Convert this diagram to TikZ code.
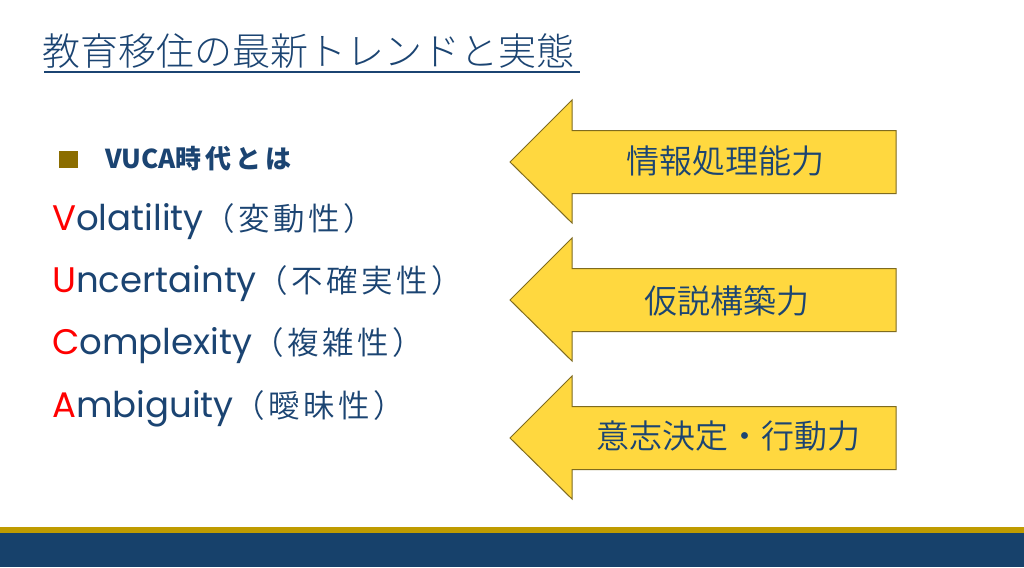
\documentclass[tikz,border=0pt]{standalone}
\usepackage{fontspec}
\setmainfont{Noto Sans CJK JP}
\newfontfamily\pop{Poppins}
\newfontfamily\cjklight{Noto Sans CJK JP Light}
\newfontfamily\cjkdemi{Noto Sans CJK JP DemiLight}
\usetikzlibrary{calc}
\definecolor{navy}{HTML}{1B4472}
\definecolor{band}{HTML}{17416B}
\definecolor{gold}{HTML}{BF9B00}
\definecolor{arrowfill}{HTML}{FFD83F}
\definecolor{arrowline}{HTML}{7F6B1F}
\definecolor{bulletc}{HTML}{8B6D00}
\definecolor{vred}{HTML}{FF0000}
\tikzset{
  bigarrow/.style={fill=arrowfill, draw=arrowline, line width=1pt, line join=miter},
  arrowtext/.style={text=navy, font=\cjkdemi\fontsize{33}{38}\selectfont, inner sep=0pt},
  vucaline/.style={text=navy, anchor=base west, inner sep=0pt},
}
\newcommand{\leftarrowshape}[1]{%
  \draw[bigarrow] (510,#1) -- (572,#1-62) -- (572,#1-31.5) -- (896,#1-31.5)
    -- (896,#1+31.5) -- (572,#1+31.5) -- (572,#1+61) -- cycle;}
\newcommand{\vucaword}[3]{{\fontsize{35.5}{40}\selectfont\pop\textcolor{vred}{#1}#2}{\cjkdemi\fontsize{31.5}{36}\selectfont\addfontfeature{LetterSpace=11}#3}}
\begin{document}
\begin{tikzpicture}[x=1pt,y=-1pt]
\useasboundingbox (0,0) rectangle (1024,567);
\fill[white] (0,0) rectangle (1024,567);
% title
\node[anchor=base west, inner sep=0pt, text=navy, font=\cjklight\fontsize{38}{44}\selectfont] (title) at (42,66) {教育移住の最新トレンドと実態};
\draw[navy, line width=1.5pt] (44,72) -- (580,72);
% bullet header
\fill[bulletc] (59,151) rectangle (78,168);
\node[vucaline, font=\bfseries\fontsize{26}{30}\selectfont] (head) at (105,168) {VUCA{\addfontfeature{LetterSpace=15}時代とは}};
% VUCA lines
\node[vucaline] (vol) at (52,230) {\vucaword{V}{olatility}{（変動性）}};
\node[vucaline] (unc) at (52,292) {\vucaword{U}{ncertainty}{（不確実性）}};
\node[vucaline] (com) at (52,354) {\vucaword{C}{omplexity}{（複雑性）}};
\node[vucaline] (amb) at (52,417) {\vucaword{A}{mbiguity}{（曖昧性）}};
% arrows
\leftarrowshape{162}
\leftarrowshape{300}
\leftarrowshape{438}
\node[arrowtext] (a1) at (725,161) {情報処理能力};
\node[arrowtext] (a2) at (727,301) {仮説構築力};
\node[arrowtext] (a3) at (728,436) {意志決定・行動力};
% bottom bands
\fill[gold] (0,527) rectangle (1024,533);
\fill[band] (0,533) rectangle (1024,567);
\end{tikzpicture}
\end{document}
